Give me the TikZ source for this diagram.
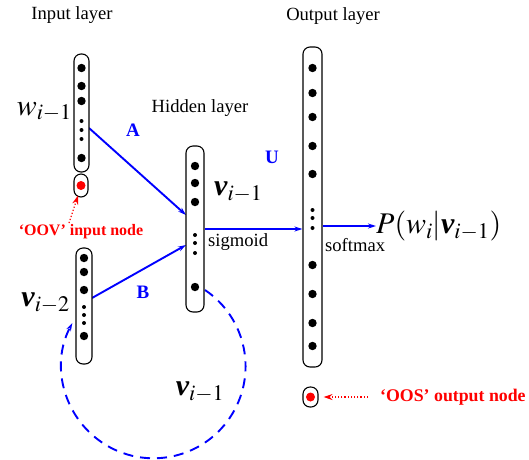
\documentclass[tikz,border=0pt]{standalone}
\usepackage{mathptmx}
\usepackage{fontspec}
\setmainfont{Liberation Serif}
\usetikzlibrary{arrows.meta}
\newcommand{\bvec}{\mbox{\bfseries\itshape v}}
\begin{document}
\begin{tikzpicture}[x=1pt,y=-1pt,
  bar/.style={draw=black,line width=1.1pt,fill=white,rounded corners=7pt,inner sep=0pt},
  txt/.style={font=\fontsize{18.6}{20}\selectfont,inner sep=0pt},
  mlab/.style={font=\fontsize{30}{32}\selectfont,inner sep=0pt},
  wlab/.style={font=\fontsize{19}{20}\selectfont\bfseries,text=blue,inner sep=0pt},
  redlab/.style={text=red,inner sep=0pt},
  conn/.style={draw=blue,line width=1.9pt,-{Stealth[length=8pt,width=5pt]}},
  dotconn/.style={draw=red,dotted,line width=1.2pt,-{Stealth[length=9pt,width=6pt]}},
  loopconn/.style={draw=blue,line width=1.9pt,dash pattern=on 10pt off 7pt,-{Stealth[length=8pt,width=5pt]}}]
\useasboundingbox (0,0) rectangle (529,459);

% coordinates for connector free ends
\coordinate (aS) at (89,128);
\coordinate (aE) at (186,215);
\coordinate (bS) at (92,298);
\coordinate (bE) at (186,245);
\coordinate (oovS) at (69,223);
\coordinate (loopS) at (205,290);

% connectors
\draw[conn] (aS) -- (aE);
\draw[conn] (bS) -- (bE);
\draw[loopconn] (loopS) arc[start angle=56,end angle=-208,radius=92pt];

% bars
\node[bar,minimum width=15pt,minimum height=118pt] (in1) at (81.5,113) {};
\node[bar,minimum width=14pt,minimum height=23pt] (oov) at (81,185.5) {};
\node[bar,minimum width=16pt,minimum height=116pt] (in2) at (84,306) {};
\node[bar,minimum width=18pt,minimum height=166pt] (hid) at (195,229) {};
\node[bar,minimum width=19pt,minimum height=320pt] (out) at (312.5,207) {};
\node[bar,minimum width=15pt,minimum height=20pt] (oos) at (310.5,397) {};

% dots
\foreach \y in {68,86,101,158} \fill (81.5,\y) circle (4.2pt);
\foreach \y in {121,130,139} \fill (81.5,\y) circle (2pt);
\fill[red] (81,185.5) circle (4.5pt);
\foreach \y in {258,272,290,336} \fill (84,\y) circle (4.2pt);
\foreach \y in {307,315,323} \fill (84,\y) circle (2pt);
\foreach \y in {166,183,202,287} \fill (195,\y) circle (4.2pt);
\foreach \y in {235,243,253} \fill (195,\y) circle (2pt);
\foreach \y in {68,93,117,146,174,265,294,323,346} \fill (312.5,\y) circle (4.2pt);
\foreach \y in {210,218,228} \fill (312.5,\y) circle (2pt);
\fill[red] (310.5,397) circle (4.5pt);

% labels
\node[txt] (lin) at (72,15) {Input layer};
\node[txt] (lhid) at (200,108) {Hidden layer};
\node[txt] (lout) at (333,16) {Output layer};
\node[txt,anchor=west] (sig) at (208,242) {sigmoid};
\node[txt,anchor=west] (soft) at (325,245) {softmax};
\node[mlab,anchor=east] (wl) at (72,112) {$w_{i-1}$};
\node[mlab,anchor=east] (v2) at (70,303) {$\bvec_{i-2}$};
\node[mlab,anchor=west] (v1) at (214,192) {$\bvec_{i-1}$};
\node[mlab] (vloop) at (200,392) {$\bvec_{i-1}$};
\node[mlab,anchor=west] (P) at (376,226) {$P(w_i|\bvec_{i-1})$};
\node[wlab] (A) at (133,130) {A};
\node[wlab] (B) at (143,292) {B};
\node[wlab] (U) at (272,157) {U};
\node[redlab,font=\fontsize{16}{18}\selectfont\bfseries] (oovlab) at (81,232) {‘OOV’ input node};
\node[redlab,font=\fontsize{17.8}{20}\selectfont\bfseries,anchor=west] (ooslab) at (380,397) {‘OOS’ output node};

% connectors to named nodes
\draw[conn] (hid.east) -- (hid.east -| out.west);
\draw[conn] (out.east |- P.west) -- (P.west);
\draw[dotconn] (oovS) -- ([xshift=-3pt,yshift=2pt]oov.south);
\draw[dotconn,shorten <=12pt,shorten >=5pt] (ooslab.west) -- (oos.east);
\end{tikzpicture}
\end{document}
